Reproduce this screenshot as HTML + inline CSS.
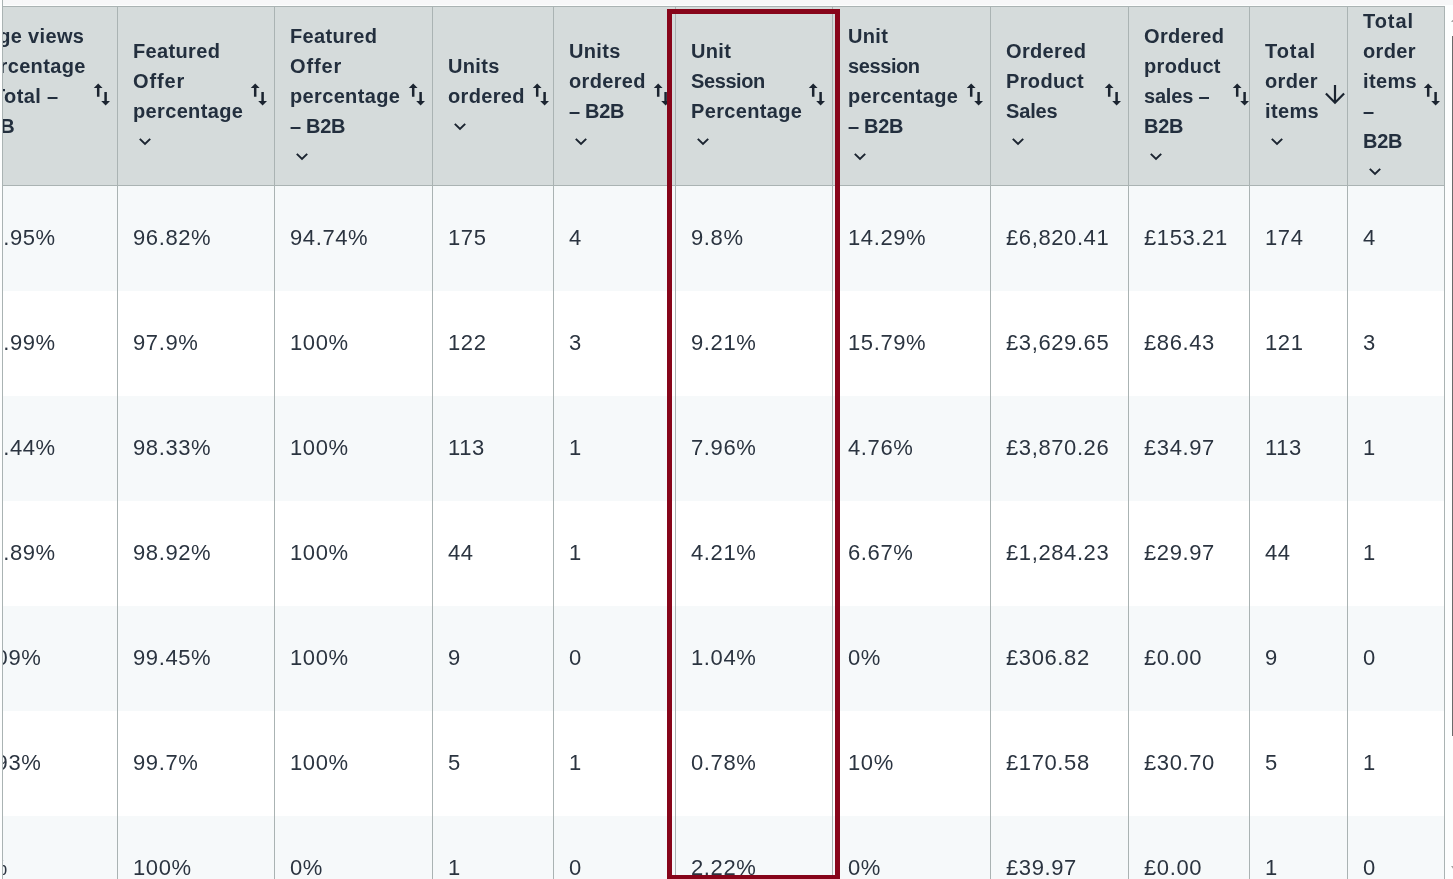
<!DOCTYPE html>
<html lang="en">
<head>
<meta charset="utf-8">
<title>Business report</title>
<style>
*{box-sizing:border-box;margin:0;padding:0}
html,body{width:1453px;height:879px;overflow:hidden;background:#fdfefe}
body{position:relative;font-family:"Liberation Sans",Arial,sans-serif;-webkit-font-smoothing:antialiased}
#tbl{position:absolute;left:0;top:0;width:1453px;height:879px;overflow:hidden;will-change:transform}
.hbg{position:absolute;left:2px;top:6px;width:1443px;height:180px;background:#d5dbdb;border-top:1px solid #aab3b3;border-bottom:1px solid #aab3b3}
.row{position:absolute;left:2px;width:1443px;height:105px;background:#fff}
.row.s{background:#f6f9fa}
.vl{position:absolute;top:6px;width:1px;height:873px;background:#aab3b3}
.th{position:absolute;top:7px;height:178px;overflow:hidden;color:#232f3e;font-weight:700;font-size:20px;line-height:30px;letter-spacing:.35px;white-space:nowrap}
.th .tx{position:absolute;left:15px;top:50%;transform:translateY(-50%)}
.th .tx span{display:block;height:30px}
.th .cv{display:block;margin:11px 0 10px 5px}
.th .si{position:absolute;top:76.3px;fill:#1b2430}
.th .sd{position:absolute;top:76px}
.td{position:absolute;height:105px;line-height:103px;padding-left:15px;overflow:hidden;color:#2b3440;font-size:22px;letter-spacing:.6px;white-space:nowrap}
#topbar{position:absolute;left:3px;top:0;width:1450px;height:5px;background:#f7f7f8}
#red{position:absolute;left:667px;top:9px;width:173px;height:871px;border:5px solid #87051a}
#sb{position:absolute;left:1452px;top:36px;width:1px;height:700px;background:#6b6b6b}
.tri{position:absolute;left:1451px;width:0;height:0;border-left:3px solid transparent;border-right:3px solid transparent;opacity:.6}
</style>
</head>
<body>
<div id="tbl">
<div id="topbar"></div>
<div class="hbg"></div>
<div class="row s" style="top:186px"></div>
<div class="row" style="top:291px"></div>
<div class="row s" style="top:396px"></div>
<div class="row" style="top:501px"></div>
<div class="row s" style="top:606px"></div>
<div class="row" style="top:711px"></div>
<div class="row s" style="top:816px"></div>
<div class="vl" style="left:2px;top:0;height:879px"></div>
<div class="vl" style="left:117px"></div>
<div class="vl" style="left:274px"></div>
<div class="vl" style="left:432px"></div>
<div class="vl" style="left:553px"></div>
<div class="vl" style="left:675px"></div>
<div class="vl" style="left:832px"></div>
<div class="vl" style="left:990px"></div>
<div class="vl" style="left:1128px"></div>
<div class="vl" style="left:1249px"></div>
<div class="vl" style="left:1347px"></div>
<div class="vl" style="left:1444px"></div>
<div class="th" style="left:3px;width:114px"><div class="tx" style="left:-24px"><span style="margin-left:-6px">Page views</span><span style="margin-left:-3.5px">percentage</span><span style="margin-left:14px">Total –</span><span style="margin-left:-5px">B2B</span><svg class="cv" width="14" height="9" viewBox="0 0 14 9"><path d="M1.8 1.9 L7 6.9 L12.2 1.9" fill="none" stroke="#1b2430" stroke-width="2" stroke-linecap="butt" stroke-linejoin="miter"/></svg></div><svg style="left:90.2px" class="si" width="18" height="23" viewBox="0 0 18 23"><path d="M5.2 0.4 L9.6 5.1 L6.45 5.1 L6.45 13.8 L3.95 13.8 L3.95 5.1 L0.8 5.1 Z"/><path d="M12.6 22.4 L8.2 18.1 L11.35 18.1 L11.35 9 L13.85 9 L13.85 18.1 L17 18.1 Z"/></svg></div>
<div class="th" style="left:118px;width:156px"><div class="tx"><span>Featured</span><span style="letter-spacing:0.85px">Offer</span><span>percentage</span><svg class="cv" width="14" height="9" viewBox="0 0 14 9"><path d="M1.8 1.9 L7 6.9 L12.2 1.9" fill="none" stroke="#1b2430" stroke-width="2" stroke-linecap="butt" stroke-linejoin="miter"/></svg></div><svg style="left:132px" class="si" width="18" height="23" viewBox="0 0 18 23"><path d="M5.2 0.4 L9.6 5.1 L6.45 5.1 L6.45 13.8 L3.95 13.8 L3.95 5.1 L0.8 5.1 Z"/><path d="M12.6 22.4 L8.2 18.1 L11.35 18.1 L11.35 9 L13.85 9 L13.85 18.1 L17 18.1 Z"/></svg></div>
<div class="th" style="left:275px;width:157px"><div class="tx"><span>Featured</span><span style="letter-spacing:0.85px">Offer</span><span>percentage</span><span style="letter-spacing:-0.3px">– B2B</span><svg class="cv" width="14" height="9" viewBox="0 0 14 9"><path d="M1.8 1.9 L7 6.9 L12.2 1.9" fill="none" stroke="#1b2430" stroke-width="2" stroke-linecap="butt" stroke-linejoin="miter"/></svg></div><svg style="left:132.6px" class="si" width="18" height="23" viewBox="0 0 18 23"><path d="M5.2 0.4 L9.6 5.1 L6.45 5.1 L6.45 13.8 L3.95 13.8 L3.95 5.1 L0.8 5.1 Z"/><path d="M12.6 22.4 L8.2 18.1 L11.35 18.1 L11.35 9 L13.85 9 L13.85 18.1 L17 18.1 Z"/></svg></div>
<div class="th" style="left:433px;width:120px"><div class="tx"><span>Units</span><span>ordered</span><svg class="cv" width="14" height="9" viewBox="0 0 14 9"><path d="M1.8 1.9 L7 6.9 L12.2 1.9" fill="none" stroke="#1b2430" stroke-width="2" stroke-linecap="butt" stroke-linejoin="miter"/></svg></div><svg style="left:98.7px" class="si" width="18" height="23" viewBox="0 0 18 23"><path d="M5.2 0.4 L9.6 5.1 L6.45 5.1 L6.45 13.8 L3.95 13.8 L3.95 5.1 L0.8 5.1 Z"/><path d="M12.6 22.4 L8.2 18.1 L11.35 18.1 L11.35 9 L13.85 9 L13.85 18.1 L17 18.1 Z"/></svg></div>
<div class="th" style="left:554px;width:121px"><div class="tx"><span>Units</span><span>ordered</span><span style="letter-spacing:-0.3px">– B2B</span><svg class="cv" width="14" height="9" viewBox="0 0 14 9"><path d="M1.8 1.9 L7 6.9 L12.2 1.9" fill="none" stroke="#1b2430" stroke-width="2" stroke-linecap="butt" stroke-linejoin="miter"/></svg></div><svg style="left:99.1px" class="si" width="18" height="23" viewBox="0 0 18 23"><path d="M5.2 0.4 L9.6 5.1 L6.45 5.1 L6.45 13.8 L3.95 13.8 L3.95 5.1 L0.8 5.1 Z"/><path d="M12.6 22.4 L8.2 18.1 L11.35 18.1 L11.35 9 L13.85 9 L13.85 18.1 L17 18.1 Z"/></svg></div>
<div class="th" style="left:676px;width:156px"><div class="tx"><span>Unit</span><span style="letter-spacing:-0.4px">Session</span><span>Percentage</span><svg class="cv" width="14" height="9" viewBox="0 0 14 9"><path d="M1.8 1.9 L7 6.9 L12.2 1.9" fill="none" stroke="#1b2430" stroke-width="2" stroke-linecap="butt" stroke-linejoin="miter"/></svg></div><svg style="left:132px" class="si" width="18" height="23" viewBox="0 0 18 23"><path d="M5.2 0.4 L9.6 5.1 L6.45 5.1 L6.45 13.8 L3.95 13.8 L3.95 5.1 L0.8 5.1 Z"/><path d="M12.6 22.4 L8.2 18.1 L11.35 18.1 L11.35 9 L13.85 9 L13.85 18.1 L17 18.1 Z"/></svg></div>
<div class="th" style="left:833px;width:157px"><div class="tx"><span>Unit</span><span style="letter-spacing:-0.4px">session</span><span>percentage</span><span style="letter-spacing:-0.3px">– B2B</span><svg class="cv" width="14" height="9" viewBox="0 0 14 9"><path d="M1.8 1.9 L7 6.9 L12.2 1.9" fill="none" stroke="#1b2430" stroke-width="2" stroke-linecap="butt" stroke-linejoin="miter"/></svg></div><svg style="left:132.8px" class="si" width="18" height="23" viewBox="0 0 18 23"><path d="M5.2 0.4 L9.6 5.1 L6.45 5.1 L6.45 13.8 L3.95 13.8 L3.95 5.1 L0.8 5.1 Z"/><path d="M12.6 22.4 L8.2 18.1 L11.35 18.1 L11.35 9 L13.85 9 L13.85 18.1 L17 18.1 Z"/></svg></div>
<div class="th" style="left:991px;width:137px"><div class="tx"><span>Ordered</span><span>Product</span><span style="letter-spacing:-0.15px">Sales</span><svg class="cv" width="14" height="9" viewBox="0 0 14 9"><path d="M1.8 1.9 L7 6.9 L12.2 1.9" fill="none" stroke="#1b2430" stroke-width="2" stroke-linecap="butt" stroke-linejoin="miter"/></svg></div><svg style="left:112.8px" class="si" width="18" height="23" viewBox="0 0 18 23"><path d="M5.2 0.4 L9.6 5.1 L6.45 5.1 L6.45 13.8 L3.95 13.8 L3.95 5.1 L0.8 5.1 Z"/><path d="M12.6 22.4 L8.2 18.1 L11.35 18.1 L11.35 9 L13.85 9 L13.85 18.1 L17 18.1 Z"/></svg></div>
<div class="th" style="left:1129px;width:120px"><div class="tx"><span>Ordered</span><span>product</span><span style="letter-spacing:-0.2px">sales –</span><span style="letter-spacing:-0.3px">B2B</span><svg class="cv" width="14" height="9" viewBox="0 0 14 9"><path d="M1.8 1.9 L7 6.9 L12.2 1.9" fill="none" stroke="#1b2430" stroke-width="2" stroke-linecap="butt" stroke-linejoin="miter"/></svg></div><svg style="left:102.6px" class="si" width="18" height="23" viewBox="0 0 18 23"><path d="M5.2 0.4 L9.6 5.1 L6.45 5.1 L6.45 13.8 L3.95 13.8 L3.95 5.1 L0.8 5.1 Z"/><path d="M12.6 22.4 L8.2 18.1 L11.35 18.1 L11.35 9 L13.85 9 L13.85 18.1 L17 18.1 Z"/></svg></div>
<div class="th" style="left:1250px;width:97px"><div class="tx"><span style="letter-spacing:0.95px">Total</span><span>order</span><span>items</span><svg class="cv" width="14" height="9" viewBox="0 0 14 9"><path d="M1.8 1.9 L7 6.9 L12.2 1.9" fill="none" stroke="#1b2430" stroke-width="2" stroke-linecap="butt" stroke-linejoin="miter"/></svg></div><svg style="left:73.8px" class="sd" width="22" height="22" viewBox="0 0 22 22"><path d="M11 1.9 L11 19.6 M1.9 10.6 L11 19.8 L20.1 10.6" fill="none" stroke="#1b2430" stroke-width="2.2" stroke-linecap="butt" stroke-linejoin="miter"/></svg></div>
<div class="th" style="left:1348px;width:96px"><div class="tx"><span style="letter-spacing:0.95px">Total</span><span>order</span><span>items</span><span>–</span><span style="letter-spacing:-0.3px">B2B</span><svg class="cv" width="14" height="9" viewBox="0 0 14 9"><path d="M1.8 1.9 L7 6.9 L12.2 1.9" fill="none" stroke="#1b2430" stroke-width="2" stroke-linecap="butt" stroke-linejoin="miter"/></svg></div><svg style="left:74.5px" class="si" width="18" height="23" viewBox="0 0 18 23"><path d="M5.2 0.4 L9.6 5.1 L6.45 5.1 L6.45 13.8 L3.95 13.8 L3.95 5.1 L0.8 5.1 Z"/><path d="M12.6 22.4 L8.2 18.1 L11.35 18.1 L11.35 9 L13.85 9 L13.85 18.1 L17 18.1 Z"/></svg></div>
<div class="td" style="left:3px;top:186px;width:114px;padding-left:0;text-indent:-25.5px">24.95%</div>
<div class="td" style="left:118px;top:186px;width:156px">96.82%</div>
<div class="td" style="left:275px;top:186px;width:157px">94.74%</div>
<div class="td" style="left:433px;top:186px;width:120px">175</div>
<div class="td" style="left:554px;top:186px;width:121px">4</div>
<div class="td" style="left:676px;top:186px;width:156px">9.8%</div>
<div class="td" style="left:833px;top:186px;width:157px">14.29%</div>
<div class="td" style="left:991px;top:186px;width:137px">£6,820.41</div>
<div class="td" style="left:1129px;top:186px;width:120px">£153.21</div>
<div class="td" style="left:1250px;top:186px;width:97px">174</div>
<div class="td" style="left:1348px;top:186px;width:96px">4</div>
<div class="td" style="left:3px;top:291px;width:114px;padding-left:0;text-indent:-25.5px">18.99%</div>
<div class="td" style="left:118px;top:291px;width:156px">97.9%</div>
<div class="td" style="left:275px;top:291px;width:157px">100%</div>
<div class="td" style="left:433px;top:291px;width:120px">122</div>
<div class="td" style="left:554px;top:291px;width:121px">3</div>
<div class="td" style="left:676px;top:291px;width:156px">9.21%</div>
<div class="td" style="left:833px;top:291px;width:157px">15.79%</div>
<div class="td" style="left:991px;top:291px;width:137px">£3,629.65</div>
<div class="td" style="left:1129px;top:291px;width:120px">£86.43</div>
<div class="td" style="left:1250px;top:291px;width:97px">121</div>
<div class="td" style="left:1348px;top:291px;width:96px">3</div>
<div class="td" style="left:3px;top:396px;width:114px;padding-left:0;text-indent:-25.5px">19.44%</div>
<div class="td" style="left:118px;top:396px;width:156px">98.33%</div>
<div class="td" style="left:275px;top:396px;width:157px">100%</div>
<div class="td" style="left:433px;top:396px;width:120px">113</div>
<div class="td" style="left:554px;top:396px;width:121px">1</div>
<div class="td" style="left:676px;top:396px;width:156px">7.96%</div>
<div class="td" style="left:833px;top:396px;width:157px">4.76%</div>
<div class="td" style="left:991px;top:396px;width:137px">£3,870.26</div>
<div class="td" style="left:1129px;top:396px;width:120px">£34.97</div>
<div class="td" style="left:1250px;top:396px;width:97px">113</div>
<div class="td" style="left:1348px;top:396px;width:96px">1</div>
<div class="td" style="left:3px;top:501px;width:114px;padding-left:0;text-indent:-25.5px">14.89%</div>
<div class="td" style="left:118px;top:501px;width:156px">98.92%</div>
<div class="td" style="left:275px;top:501px;width:157px">100%</div>
<div class="td" style="left:433px;top:501px;width:120px">44</div>
<div class="td" style="left:554px;top:501px;width:121px">1</div>
<div class="td" style="left:676px;top:501px;width:156px">4.21%</div>
<div class="td" style="left:833px;top:501px;width:157px">6.67%</div>
<div class="td" style="left:991px;top:501px;width:137px">£1,284.23</div>
<div class="td" style="left:1129px;top:501px;width:120px">£29.97</div>
<div class="td" style="left:1250px;top:501px;width:97px">44</div>
<div class="td" style="left:1348px;top:501px;width:96px">1</div>
<div class="td" style="left:3px;top:606px;width:114px;padding-left:0;text-indent:-27px">1.09%</div>
<div class="td" style="left:118px;top:606px;width:156px">99.45%</div>
<div class="td" style="left:275px;top:606px;width:157px">100%</div>
<div class="td" style="left:433px;top:606px;width:120px">9</div>
<div class="td" style="left:554px;top:606px;width:121px">0</div>
<div class="td" style="left:676px;top:606px;width:156px">1.04%</div>
<div class="td" style="left:833px;top:606px;width:157px">0%</div>
<div class="td" style="left:991px;top:606px;width:137px">£306.82</div>
<div class="td" style="left:1129px;top:606px;width:120px">£0.00</div>
<div class="td" style="left:1250px;top:606px;width:97px">9</div>
<div class="td" style="left:1348px;top:606px;width:96px">0</div>
<div class="td" style="left:3px;top:711px;width:114px;padding-left:0;text-indent:-27px">8.93%</div>
<div class="td" style="left:118px;top:711px;width:156px">99.7%</div>
<div class="td" style="left:275px;top:711px;width:157px">100%</div>
<div class="td" style="left:433px;top:711px;width:120px">5</div>
<div class="td" style="left:554px;top:711px;width:121px">1</div>
<div class="td" style="left:676px;top:711px;width:156px">0.78%</div>
<div class="td" style="left:833px;top:711px;width:157px">10%</div>
<div class="td" style="left:991px;top:711px;width:137px">£170.58</div>
<div class="td" style="left:1129px;top:711px;width:120px">£30.70</div>
<div class="td" style="left:1250px;top:711px;width:97px">5</div>
<div class="td" style="left:1348px;top:711px;width:96px">1</div>
<div class="td" style="left:3px;top:816px;width:114px;padding-left:0;text-indent:-28.2px">0%</div>
<div class="td" style="left:118px;top:816px;width:156px">100%</div>
<div class="td" style="left:275px;top:816px;width:157px">0%</div>
<div class="td" style="left:433px;top:816px;width:120px">1</div>
<div class="td" style="left:554px;top:816px;width:121px">0</div>
<div class="td" style="left:676px;top:816px;width:156px">2.22%</div>
<div class="td" style="left:833px;top:816px;width:157px">0%</div>
<div class="td" style="left:991px;top:816px;width:137px">£39.97</div>
<div class="td" style="left:1129px;top:816px;width:120px">£0.00</div>
<div class="td" style="left:1250px;top:816px;width:97px">1</div>
<div class="td" style="left:1348px;top:816px;width:96px">0</div>
<div id="red"></div>
<div id="sb"></div>
<div class="tri" style="top:18px;border-bottom:4px solid #6b6b6b"></div>
<div class="tri" style="top:866px;border-top:4px solid #6b6b6b"></div>
</div>
</body>
</html>
